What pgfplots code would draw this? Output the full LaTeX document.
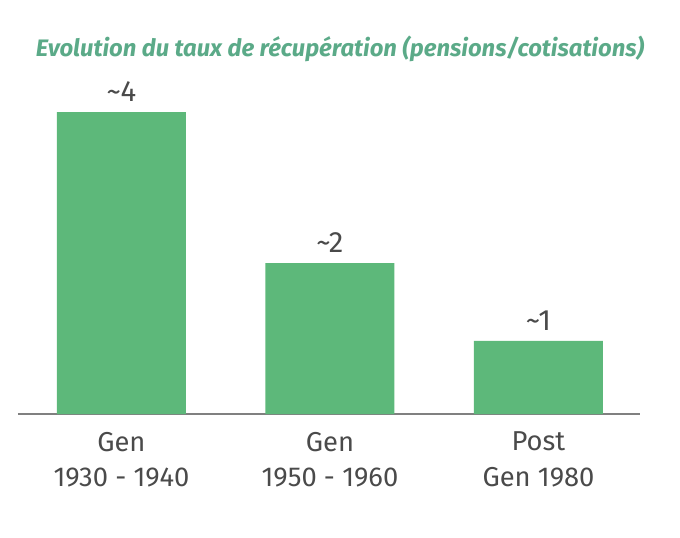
\documentclass[border=0pt]{standalone}
\usepackage{pgfplots}
\pgfplotsset{compat=1.18}
\usepackage{fontspec}
\setmainfont{Fira Sans}
\definecolor{barc}{HTML}{5DB87A}
\definecolor{titlec}{HTML}{5BAA88}
\definecolor{textc}{HTML}{4A4A4A}
\definecolor{axisc}{HTML}{808080}
\begin{document}
\begin{tikzpicture}
\path[use as bounding box] (0,0) rectangle (510pt,402.75pt);
\node[font=\fontsize{17.9}{21}\selectfont\bfseries\itshape, text=titlec, anchor=base] at (255pt,360.5pt) {Evolution du taux de récupération (pensions/cotisations)};
\begin{axis}[
  at={(13.5pt,92.25pt)}, anchor=south west,
  scale only axis, width=466.5pt, height=235.5pt,
  xmin=-0.496, xmax=2.487, ymin=0, ymax=4.159,
  axis x line=bottom, axis y line=none,
  x axis line style={draw=axisc, line width=0.9pt, -},
  xtick={0,1,2},
  xticklabels={{Gen\\1930 - 1940},{Gen\\1950 - 1960},{Post\\Gen 1980}},
  major tick length=0pt,
  xticklabel style={align=center, text=textc, font=\fontsize{20.5}{26.5}\selectfont, yshift=-10pt},
  ytick=\empty,
  bar width=96.75pt,
  nodes near coords,
  point meta=explicit symbolic,
  every node near coord/.append style={text=textc, font=\fontsize{22}{26}\selectfont, yshift=4.5pt},
  clip=false,
]
\addplot[ybar, fill=barc, draw=none] coordinates {
  (0,4) [\textasciitilde 4]
  (1,2) [\textasciitilde 2]
  (2,0.97) [\textasciitilde 1]
};
\end{axis}
\end{tikzpicture}
\end{document}
